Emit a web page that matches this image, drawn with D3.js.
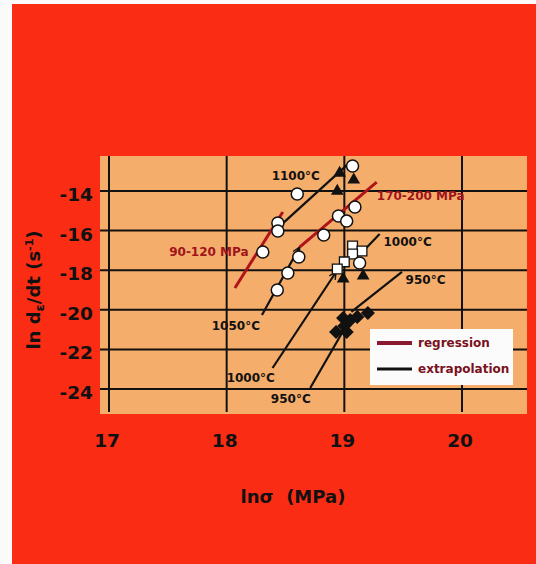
<!DOCTYPE html>
<html>
<head>
<meta charset="utf-8">
<script src="https://cdn.jsdelivr.net/npm/d3@7"></script>
<style>
  body { margin: 0; background: #fafafa; }
  text { font-family: "DejaVu Sans", sans-serif; font-weight: bold; }
</style>
</head>
<body>
<svg width="536" height="564"></svg>
<script>
// Axis ticks
const xTicks = [17, 18, 19, 20];
const yTicks = [-14, -16, -18, -20, -22, -24];

// Measured points [ln sigma, ln strain rate]
const openCircles = [
  [18.60, -14.15], [18.435, -15.62], [18.435, -16.02], [18.307, -17.08],
  [18.613, -17.33], [18.52, -18.14], [18.43, -19.0], [19.07, -12.74],
  [19.09, -14.81], [18.95, -15.26], [19.02, -15.52], [18.825, -16.22],
  [19.13, -17.64]
];
const filledTriangles = [
  [18.96, -13.09], [19.08, -13.44], [18.94, -14.0], [18.99, -18.44], [19.16, -18.29]
];
const openSquares = [
  [19.07, -16.78], [19.15, -17.03], [19.07, -17.18], [19.00, -17.58], [18.94, -17.94]
];
const filledDiamonds = [
  [18.93, -21.12], [19.00, -20.82], [19.02, -21.12], [19.05, -20.52],
  [18.99, -20.42], [19.11, -20.36], [19.20, -20.16]
];

// Regression fits (stress ranges)
const regressionLines = [
  [[18.07, -18.9], [18.477, -15.06]],
  [[18.62, -16.83], [19.275, -13.55]]
];
const regressionLabels = ["90-120 MPa", "170-200 MPa"];
const regressionLabelAt = [[17.849, -17.08], [19.649, -14.25]];

// Extrapolations (temperatures)
const extrapLines = [
  [[18.47, -15.67], [19.04, -12.59]],
  [[18.30, -20.26], [18.62, -16.83]],
  [[18.39, -22.94], [18.93, -18.09]],
  [[18.71, -23.95], [18.98, -21.17]],
  [[19.30, -16.17], [19.17, -16.98]],
  [[19.49, -18.09], [19.06, -20.1]]
];
const extrapArrow = [false, true, true, false, false, false];
const tempLabels = ["1100°C", "1050°C", "1000°C", "950°C", "1000°C", "950°C"];
const tempLabelAt = [
  [18.587, -13.24], [18.078, -20.82], [18.205, -23.44],
  [18.545, -24.5], [19.538, -16.58], [19.69, -18.49]
];

const svg = d3.select("svg");

// Red page and peach plot area
svg.append("rect")
  .attr("x", 12).attr("y", 4)
  .attr("width", 524).attr("height", 560)
  .attr("fill", "#fa2c14");

const plot = { left: 100, right: 527, top: 156, bottom: 414 };
svg.append("rect")
  .attr("x", plot.left).attr("y", plot.top)
  .attr("width", plot.right - plot.left)
  .attr("height", plot.bottom - plot.top)
  .attr("fill", "#f5ad6b");

// Scales
const x = d3.scaleLinear().domain([17, 20]).range([109, 462]);
const y = d3.scaleLinear().domain([-14, -24]).range([191, 389]);

// Grid
svg.selectAll("line.vgrid")
  .data(xTicks)
  .join("line")
  .attr("class", "vgrid")
  .attr("x1", d => x(d)).attr("x2", d => x(d))
  .attr("y1", plot.top).attr("y2", plot.bottom - 2)
  .attr("stroke", "#111").attr("stroke-width", 2);

svg.selectAll("line.hgrid")
  .data(yTicks)
  .join("line")
  .attr("class", "hgrid")
  .attr("x1", plot.left).attr("x2", plot.right)
  .attr("y1", d => y(d)).attr("y2", d => y(d))
  .attr("stroke", "#111").attr("stroke-width", 2);

// Tick labels
svg.selectAll("text.ytick")
  .data(yTicks)
  .join("text")
  .attr("class", "ytick")
  .attr("x", 93)
  .attr("y", d => y(d) + 10)
  .attr("text-anchor", "end")
  .attr("font-size", 18.5)
  .attr("fill", "#111")
  .text(d => d);

svg.selectAll("text.xtick")
  .data(xTicks)
  .join("text")
  .attr("class", "xtick")
  .attr("x", d => x(d) - 2)
  .attr("y", 447)
  .attr("text-anchor", "middle")
  .attr("font-size", 18.5)
  .attr("fill", "#111")
  .text(d => d);

// Axis titles
svg.append("text")
  .attr("x", 293).attr("y", 503)
  .attr("text-anchor", "middle")
  .attr("font-size", 18)
  .attr("fill", "#111")
  .attr("xml:space", "preserve")
  .text("lnσ  (MPa)");

const yt = svg.append("text")
  .attr("transform", "translate(40,290) rotate(-90)")
  .attr("text-anchor", "middle")
  .attr("font-size", 18)
  .attr("fill", "#111");
yt.append("tspan").text("ln d");
yt.append("tspan").attr("dy", 4).attr("font-size", 13).text("ε");
yt.append("tspan").attr("dy", -4).text("/dt (s");
yt.append("tspan").attr("dy", -7).attr("font-size", 11).text("-1");
yt.append("tspan").attr("dy", 7).text(")");

// Arrow marker
svg.append("defs").append("marker")
  .attr("id", "arrow")
  .attr("viewBox", "0 0 10 10")
  .attr("refX", 9).attr("refY", 5)
  .attr("markerWidth", 4).attr("markerHeight", 4)
  .attr("orient", "auto")
  .append("path")
  .attr("d", "M1,1 L9,5 L1,9")
  .attr("fill", "none")
  .attr("stroke", "#111")
  .attr("stroke-width", 1.6);

const line = d3.line().x(d => x(d[0])).y(d => y(d[1]));

svg.selectAll("path.extrap")
  .data(extrapLines)
  .join("path")
  .attr("class", "extrap")
  .attr("d", line)
  .attr("fill", "none")
  .attr("stroke", "#111")
  .attr("stroke-width", 2.2)
  .attr("marker-end", (d, i) => extrapArrow[i] ? "url(#arrow)" : null);

svg.selectAll("path.regr")
  .data(regressionLines)
  .join("path")
  .attr("class", "regr")
  .attr("d", line)
  .attr("fill", "none")
  .attr("stroke", "#b0141a")
  .attr("stroke-width", 3);

// Annotations
svg.selectAll("text.temp")
  .data(tempLabels)
  .join("text")
  .attr("class", "temp")
  .attr("x", (d, i) => x(tempLabelAt[i][0]))
  .attr("y", (d, i) => y(tempLabelAt[i][1]))
  .attr("dy", "0.36em")
  .attr("text-anchor", "middle")
  .attr("font-size", 12)
  .attr("fill", "#111")
  .text(d => d);

svg.selectAll("text.stress")
  .data(regressionLabels)
  .join("text")
  .attr("class", "stress")
  .attr("x", (d, i) => x(regressionLabelAt[i][0]))
  .attr("y", (d, i) => y(regressionLabelAt[i][1]))
  .attr("dy", "0.36em")
  .attr("text-anchor", "middle")
  .attr("font-size", 12)
  .attr("fill", "#a0141c")
  .text(d => d);

// Symbols
svg.selectAll("path.tri")
  .data(filledTriangles)
  .join("path")
  .attr("class", "tri")
  .attr("transform", d => `translate(${x(d[0])},${y(d[1])})`)
  .attr("d", d3.symbol(d3.symbolTriangle, 70))
  .attr("fill", "#111");

svg.selectAll("path.dia")
  .data(filledDiamonds)
  .join("path")
  .attr("class", "dia")
  .attr("transform", d => `translate(${x(d[0])},${y(d[1])}) rotate(45)`)
  .attr("d", d3.symbol(d3.symbolSquare, 100))
  .attr("fill", "#111");

svg.selectAll("path.sq")
  .data(openSquares)
  .join("path")
  .attr("class", "sq")
  .attr("transform", d => `translate(${x(d[0])},${y(d[1])})`)
  .attr("d", d3.symbol(d3.symbolSquare, 95))
  .attr("fill", "#fff")
  .attr("stroke", "#111")
  .attr("stroke-width", 1.3);

svg.selectAll("circle.pt")
  .data(openCircles)
  .join("circle")
  .attr("class", "pt")
  .attr("cx", d => x(d[0]))
  .attr("cy", d => y(d[1]))
  .attr("r", 6)
  .attr("fill", "#fff")
  .attr("stroke", "#111")
  .attr("stroke-width", 1.5);

// Legend
const lg = svg.append("g").attr("transform", "translate(370,329)");
lg.append("rect")
  .attr("width", 143).attr("height", 56)
  .attr("fill", "#fbfbfb");
lg.append("line")
  .attr("x1", 7).attr("x2", 42).attr("y1", 14).attr("y2", 14)
  .attr("stroke", "#8b1a30").attr("stroke-width", 4);
lg.append("line")
  .attr("x1", 7).attr("x2", 42).attr("y1", 40).attr("y2", 40)
  .attr("stroke", "#111").attr("stroke-width", 3);
lg.append("text")
  .attr("x", 48).attr("y", 18)
  .attr("font-size", 12)
  .attr("fill", "#7a1020")
  .text("regression");
lg.append("text")
  .attr("x", 48).attr("y", 44)
  .attr("font-size", 12)
  .attr("fill", "#7a1020")
  .text("extrapolation");
</script>
</body>
</html>
